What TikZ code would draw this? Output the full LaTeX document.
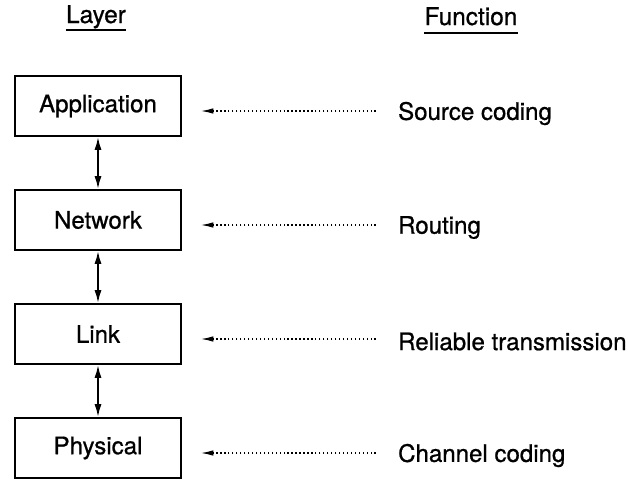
\documentclass[tikz,border=0pt]{standalone}
\usepackage{fontspec}
\setmainfont{TeX Gyre Heros}[FakeBold=0.8]
\usetikzlibrary{arrows.meta,positioning}

\tikzset{
  layerbox/.style={draw, line width=0.9pt, minimum width=3.32cm, minimum height=1.2cm,
    inner sep=0pt, font=\fontsize{13.7}{16}\selectfont},
  funclabel/.style={inner sep=0pt, font=\fontsize{13.7}{16}\selectfont},
  header/.style={inner sep=0pt, font=\fontsize{13.9}{16}\selectfont},
  stackarrow/.style={{Latex[length=0.26cm,width=0.14cm]}-{Latex[length=0.26cm,width=0.14cm]},
    line width=1.1pt},
  maparrow/.style={-{Latex[length=0.25cm,width=0.11cm]}, line width=0.75pt,
    dash pattern=on 0.75pt off 1.5pt}
}

\begin{document}
\begin{tikzpicture}
\useasboundingbox (0,0) rectangle (12.56,-9.58);

% Column headings
\node[header, anchor=base] (layhead) at (1.92,-0.46) {Layer};
\node[header, anchor=base] (funhead) at (9.42,-0.50) {Function};
\draw[line width=0.8pt] ([yshift=-0.14cm]layhead.base west) -- ([yshift=-0.14cm]layhead.base east);
\draw[line width=0.8pt] ([yshift=-0.16cm]funhead.base west) -- ([yshift=-0.16cm]funhead.base east);

% Draw layers and what each one does
\foreach \i/\y/\lay/\fun in {1/-2.12/Application/Source coding,
                             2/-4.40/Network/Routing,
                             3/-6.68/Link/Reliable transmission,
                             4/-8.96/Physical/Channel coding} {
    \node[layerbox] (l\i) at (1.96,\y) {\lay};
    \node[funclabel, right=4.32cm of l\i, yshift=-0.15cm] (f\i) {\fun};
    \draw[maparrow] ([xshift=-0.44cm,yshift=0.05cm]f\i.west)
        -- ([xshift=0.38cm,yshift=0.05cm]l\i.east |- f\i.west);
}

% Connect neighbouring layers
\foreach \a/\b in {1/2,2/3,3/4}
    \draw[stackarrow] (l\a) -- (l\b);
\end{tikzpicture}
\end{document}
